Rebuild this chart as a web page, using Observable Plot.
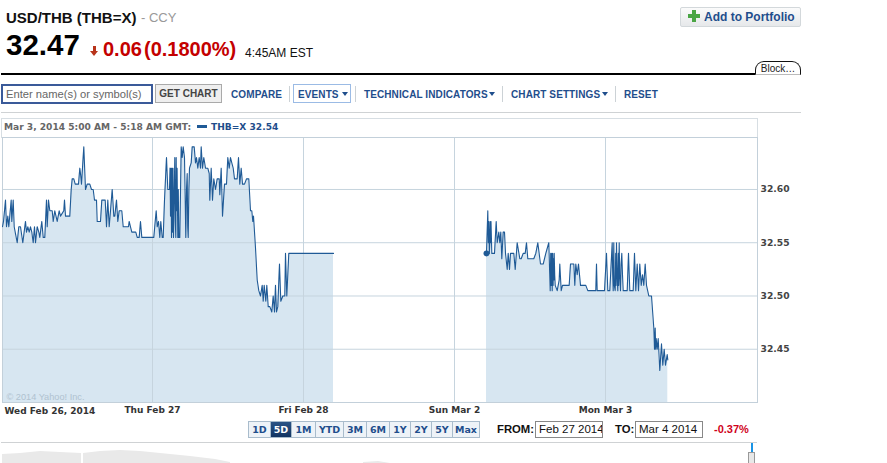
<!DOCTYPE html>
<html>
<head>
<meta charset="utf-8">
<script src="https://cdn.jsdelivr.net/npm/d3@7"></script>
<script src="https://cdn.jsdelivr.net/npm/@observablehq/plot@0.6"></script>
<style>
html,body{margin:0;padding:0;background:#fff;width:887px;height:463px;overflow:hidden;font-family:"Liberation Sans",Arial,sans-serif}
#page{position:relative;width:887px;height:463px;overflow:hidden}
.a{position:absolute;white-space:nowrap;line-height:1}
.nav{font-size:10px;font-weight:bold;color:#1f4e8c;top:90px;letter-spacing:.1px}
.sep{position:absolute;top:86px;width:1px;height:16px;background:#ccd2d6}
.caret{position:absolute;top:92px;width:0;height:0;border-left:3.5px solid transparent;border-right:3.5px solid transparent;border-top:4px solid #1f4e8c}
.rng{position:absolute;top:421px;height:17px;box-sizing:border-box;border:1px solid #a9bccc;border-left-width:0;background:#eef3f8;color:#1f4e8c;font:bold 9.5px "DejaVu Sans";line-height:15px;text-align:center}
.rng.on{background:linear-gradient(#2b5486,#123462);color:#fff}
.inp{position:absolute;top:421px;height:17px;box-sizing:border-box;border:1px solid #888;font-size:11.5px;line-height:15px;padding-left:3px;color:#111;white-space:nowrap;overflow:hidden}
svg{overflow:visible}
</style>
</head>
<body>
<div id="page">
  <div class="a" style="left:6px;top:10px;font-size:15px;font-weight:bold;color:#111">USD/THB (THB=X)</div>
  <div class="a" style="left:141px;top:11px;font-size:13px;color:#999">- CCY</div>
  <div class="a" style="left:6px;top:30px;font-size:29.5px;font-weight:bold;color:#000">32.47</div>
  <div class="a" style="left:93px;top:46px;width:3px;height:5px;background:#b8341b"></div>
  <div class="a" style="left:90px;top:51px;width:0;height:0;border-left:4.5px solid transparent;border-right:4.5px solid transparent;border-top:5px solid #b8341b"></div>
  <div class="a" style="left:103px;top:39px;font-size:20px;font-weight:bold;color:#c40000">0.06</div>
  <div class="a" style="left:144px;top:39px;font-size:20px;font-weight:bold;color:#c40000">(0.1800%)</div>
  <div class="a" style="left:245px;top:47px;font-size:12px;color:#111">4:45AM EST</div>

  <div class="a" style="left:680px;top:7px;width:121px;height:20px;box-sizing:border-box;border:1px solid #d3d8db;border-radius:2px;background:linear-gradient(#fbfbfb,#e6e8ea)"></div>
  <div class="a" style="left:692px;top:10px;width:4px;height:12px;background:#4aa544"></div>
  <div class="a" style="left:688px;top:14px;width:12px;height:4px;background:#4aa544"></div>
  <div class="a" style="left:704px;top:11px;font-size:12px;font-weight:bold;color:#1f4e8c">Add to Portfolio</div>

  <div class="a" style="left:1px;top:73px;width:755px;height:2px;background:#000"></div>
  <div class="a" style="left:755px;top:61px;width:46px;height:14px;box-sizing:border-box;border:1px solid #111;border-bottom:1px solid #bbb;border-radius:9px 9px 0 0;background:#fff;font-size:10px;color:#222;text-align:center;line-height:13px">Block…</div>

  <div class="a" style="left:1px;top:84px;width:152px;height:20px;box-sizing:border-box;border:2px solid #3a5a99;font-size:11.2px;line-height:16px;color:#666;padding-left:3px">Enter name(s) or symbol(s)</div>
  <div class="a" style="left:155px;top:84px;width:67px;height:19px;box-sizing:border-box;border:1px solid #aaa;background:#efefef;font-size:10px;font-weight:bold;color:#444;line-height:18px;text-align:center">GET CHART</div>
  <div class="a nav" style="left:231px">COMPARE</div>
  <div class="sep" style="left:289px"></div>
  <div class="a" style="left:293px;top:84px;width:58px;height:19px;box-sizing:border-box;border:1px solid #9bbbe5"></div>
  <div class="a nav" style="left:298px">EVENTS</div><div class="caret" style="left:342px"></div>
  <div class="sep" style="left:355px"></div>
  <div class="a nav" style="left:364px">TECHNICAL INDICATORS</div><div class="caret" style="left:489px"></div>
  <div class="sep" style="left:502px"></div>
  <div class="a nav" style="left:511px">CHART SETTINGS</div><div class="caret" style="left:602px"></div>
  <div class="sep" style="left:615px"></div>
  <div class="a nav" style="left:624px">RESET</div>
  <div class="a" style="left:1px;top:112px;width:800px;height:1px;background:#cfd2d4"></div>

  <div class="a" style="left:1px;top:118px;width:757px;height:20px;box-sizing:border-box;border:1px solid #d7dee3;border-bottom:0"></div>
  <div class="a" style="left:4px;top:122px;font:bold 9.1px 'DejaVu Sans';color:#666">Mar 3, 2014 5:00 AM - 5:18 AM GMT:</div>
  <div class="a" style="left:197px;top:125px;width:10px;height:3px;background:#1f5a96"></div>
  <div class="a" style="left:211px;top:122px;font:bold 9.1px 'DejaVu Sans';color:#1f4e8c">THB=X 32.54</div>

  <div id="chart" class="a" style="left:0;top:130px"></div>

  <div id="ranges"></div>
  <div class="a" style="left:497px;top:424px;font-size:11.3px;font-weight:bold;color:#111">FROM:</div>
  <div class="inp" style="left:535px;width:68px">Feb 27 2014</div>
  <div class="a" style="left:615px;top:424px;font-size:11.3px;font-weight:bold;color:#111">TO:</div>
  <div class="inp" style="left:635px;width:68px">Mar 4 2014</div>
  <div class="a" style="left:714px;top:424px;font-size:11px;font-weight:bold;color:#d0021b">-0.37%</div>
  <div class="a" style="left:1px;top:442px;width:756px;height:1px;background:#cfd2d4"></div>
  <div id="overview" class="a" style="left:0;top:447px"></div>
  <div class="a" style="left:751px;top:443px;width:2px;height:10px;background:#1a94e6"></div>
  <div class="a" style="left:748px;top:452px;width:7px;height:12px;box-sizing:border-box;border:1px solid #999;background:#e8e8e8"></div>
</div>
<script>
// x is counted in bars of about 9.5 minutes; one session on the axis is 151 bars
const sessionBars = [150, 301, 452, 603];
const sessionLabels = ["Thu Feb 27", "Fri Feb 28", "Sun Mar 2", "Mon Mar 3"];
const firstLabel = "Wed Feb 26, 2014";
const rateTicks = [32.45, 32.50, 32.55, 32.60];
const copyright = "© 2014 Yahoo! Inc.";
const rangeLabels = ["1D","5D","1M","YTD","3M","6M","1Y","2Y","5Y","Max"];
const rangeEdges = [248,271,292,316,344,367,390,411,432,453,480];

const earlyRates = [[0,32.565],[1,32.57],[3,32.59],[4,32.565],[5.3,32.575],[6.3,32.565],[8.7,32.59],[9.3,32.57],[10.7,32.59],[11.7,32.565],[12.7,32.56],[14.7,32.55],[16.3,32.565],[18,32.565],[20.3,32.55],[23,32.57],[24,32.56],[25.3,32.565],[26.7,32.56],[28,32.565],[29.3,32.56],[30.7,32.55],[32,32.565],[33,32.55],[34.7,32.565],[36.3,32.56],[37.3,32.555],[39.3,32.57],[40.7,32.555],[42.3,32.555],[44,32.59],[44.7,32.565],[46,32.59],[47.3,32.58],[49.7,32.58],[50.7,32.57],[52.3,32.58],[54.7,32.57],[56.7,32.58],[58,32.575],[61.3,32.58],[62,32.59],[63,32.575],[67.3,32.575],[68.7,32.60],[69.7,32.61],[71.3,32.61],[72.7,32.605],[76,32.605],[77.3,32.62],[78,32.615],[79,32.605],[81.3,32.64],[83,32.60],[84.7,32.605],[87.3,32.605],[89,32.60],[90.7,32.60],[92,32.59],[94,32.59],[94.7,32.57],[98,32.57],[99.3,32.59],[102.7,32.59],[104,32.565],[105.3,32.59],[106.7,32.565],[108,32.58],[109.7,32.60],[111.3,32.575],[112.3,32.575],[114,32.59],[115.3,32.57],[116.7,32.58],[119.3,32.58],[120.7,32.565],[126,32.565],[126.7,32.57],[128,32.565],[129.3,32.56],[133.3,32.56],[134.7,32.555],[136.7,32.555],[138,32.57],[139.3,32.555],[151.3,32.555],[152.7,32.57],[153.7,32.58],[154.7,32.565],[156,32.57],[157.3,32.555],[158.3,32.57],[159.7,32.555],[160.7,32.555],[162,32.59],[164,32.63],[165.3,32.60],[167,32.60],[167.5,32.62],[168,32.575],[168.5,32.62],[169,32.555],[169.5,32.62],[170,32.56],[170.5,32.62],[171,32.555],[172.3,32.63],[172.8,32.57],[173.3,32.555],[173.7,32.63],[174,32.58],[174.6,32.62],[175.3,32.555],[175.8,32.6],[176.3,32.555],[177.3,32.555],[178.7,32.64],[179.7,32.63],[180.7,32.64],[182,32.63],[183.3,32.555],[184,32.6],[184.7,32.615],[185.2,32.565],[185.7,32.555],[186.4,32.6],[187,32.62],[188.7,32.625],[189.7,32.64],[191.7,32.64],[193,32.625],[194,32.63],[195.3,32.62],[196.7,32.63],[198,32.62],[198.7,32.64],[200,32.62],[201.3,32.63],[203,32.62],[205.3,32.62],[206.7,32.615],[207.3,32.59],[208.7,32.62],[210,32.59],[211.3,32.61],[213,32.60],[214.7,32.61],[216.7,32.61],[217.3,32.595],[218.7,32.62],[220,32.575],[222,32.605],[224,32.605],[225.3,32.63],[226.7,32.62],[228,32.63],[229.3,32.625],[230.7,32.62],[232,32.61],[234.7,32.61],[236,32.63],[237.3,32.605],[238.7,32.62],[240,32.605],[242,32.605],[244,32.61],[246.3,32.61],[248,32.58],[249.3,32.58],[250.3,32.57],[251,32.575],[252,32.56],[253,32.545],[254.7,32.515],[256.3,32.505],[258,32.50],[259.7,32.51],[260.7,32.495],[261.7,32.51],[263.3,32.495],[264.3,32.51],[265.7,32.49],[267.3,32.49],[269.3,32.485],[270.7,32.50],[272,32.485],[273,32.51],[274,32.485],[275.3,32.49],[277,32.53],[278.3,32.495],[280.3,32.50],[282.3,32.50],[283,32.54],[284.3,32.50],[286.3,32.54],[331,32.54]];

const lateRates = [[484,32.54],[485.3,32.58],[485.8,32.55],[486.3,32.57],[486.8,32.54],[487.3,32.55],[487.7,32.57],[488,32.55],[488.5,32.57],[489.3,32.54],[492,32.54],[493.7,32.57],[494.7,32.55],[496.3,32.56],[497.3,32.55],[498.3,32.56],[499.3,32.535],[500.7,32.56],[502,32.56],[503,32.54],[504.7,32.525],[505.7,32.54],[507,32.525],[508,32.54],[511.3,32.54],[512.7,32.525],[514.7,32.55],[517.3,32.535],[518.7,32.535],[520.7,32.54],[522.7,32.54],[524,32.55],[525.3,32.535],[531.3,32.535],[533.3,32.54],[535.3,32.55],[538,32.53],[540.7,32.53],[543.3,32.54],[546.3,32.55],[547.7,32.505],[548.2,32.54],[548.7,32.51],[549.3,32.54],[549.7,32.505],[550.2,32.54],[550.6,32.51],[551,32.535],[551.4,32.515],[551.7,32.54],[552.2,32.52],[552.7,32.51],[554.7,32.505],[556.7,32.515],[557.3,32.53],[558.7,32.505],[560,32.51],[566.7,32.51],[568,32.53],[571.3,32.53],[572.3,32.51],[573.3,32.53],[574.7,32.52],[576,32.53],[578,32.51],[583.3,32.51],[585.3,32.505],[593.3,32.505],[594,32.53],[594.7,32.505],[602,32.505],[604,32.54],[605.3,32.505],[607.3,32.505],[609.7,32.55],[610.2,32.52],[610.7,32.505],[611.3,32.55],[611.8,32.51],[612.7,32.505],[613.2,32.54],[613.6,32.51],[614,32.55],[614.6,32.52],[615.3,32.505],[615.8,32.54],[616.2,32.51],[616.7,32.55],[617.2,32.52],[618,32.505],[618.6,32.53],[619.3,32.54],[620,32.52],[620.7,32.505],[624.7,32.505],[626,32.54],[627.3,32.505],[630.7,32.505],[632,32.54],[633.3,32.505],[634.7,32.53],[636,32.505],[637.3,32.53],[638.7,32.51],[640,32.52],[641.3,32.51],[642.7,32.53],[644,32.51],[646.3,32.50],[649,32.50],[651.3,32.47],[652,32.45],[652.7,32.47],[653.2,32.45],[653.7,32.46],[654.7,32.45],[655.7,32.46],[657.3,32.43],[659,32.455],[660.3,32.435],[661.7,32.45],[663,32.435],[664.7,32.445],[665.3,32.44]];

const marker = [[484, 32.54]];
const overviewA = [[0,9],[18,10],[38,12],[58,11],[79,10]];
const overviewB = [[81,10],[98,12],[118,13],[138,12],[158,10],[188,7],[213,4],[228,1]];
const overviewC = [[361,1],[376,2],[388,0]];

const lineBlue = "#1f5a96", fillBlue = "#d7e6f1", gridBlue = "#c6d4de";
const seg = s => ({x: d => d[0], y: d => d[1], ...s});
const base = {x: d => d[0], y1: () => 32.40, y2: d => d[1], fill: fillBlue};

document.getElementById("chart").append(Plot.plot({
  width: 800, height: 290,
  marginTop: 7, marginBottom: 18, marginLeft: 2, marginRight: 43,
  style: {fontFamily: "'DejaVu Sans'", fontSize: "9px", fontWeight: "bold", color: "#444", background: "transparent"},
  x: {domain: [0, 755], axis: null},
  y: {domain: [32.40, 32.6488], axis: null},
  marks: [
    Plot.areaY(earlyRates, base),
    Plot.areaY(lateRates, base),
    Plot.gridX(sessionBars, {stroke: gridBlue, strokeOpacity: 1}),
    Plot.gridY(rateTicks, {stroke: gridBlue, strokeOpacity: 1}),
    Plot.frame({stroke: "#c3d0da"}),
    Plot.axisY({anchor: "right", ticks: rateTicks, tickSize: 0, tickPadding: 3, tickFormat: d3.format(".2f"), label: null, fill: "#444", fontSize: 9.2}),
    Plot.axisX({ticks: sessionBars, tickSize: 0, tickPadding: 4, tickFormat: d => sessionLabels[sessionBars.indexOf(d)], label: null, fill: "#333", fontSize: 9}),
    Plot.text([firstLabel], {frameAnchor: "bottom-left", dx: 2, dy: 11, textAnchor: "start", fill: "#333", fontSize: 9}),
    Plot.text([copyright], {frameAnchor: "bottom-left", dx: 4, dy: -3, textAnchor: "start", fill: "#b0c2d0", fontWeight: "normal", fontFamily: "'Liberation Sans'", fontSize: 9.2}),
    Plot.line(earlyRates, seg({stroke: lineBlue, strokeWidth: 1.1})),
    Plot.line(lateRates, seg({stroke: lineBlue, strokeWidth: 1.1})),
    Plot.dot(marker, seg({r: 3, fill: lineBlue}))
  ]
}));

document.getElementById("overview").append(Plot.plot({
  width: 800, height: 16, margin: 0, marginLeft: 2, marginRight: 43,
  x: {domain: [0, 755], axis: null},
  y: {domain: [0, 16], axis: null},
  style: {background: "transparent"},
  marks: [overviewA, overviewB, overviewC].map(o => Plot.areaY(o, {x: d => d[0], y: d => d[1], fill: "#e9e9e9"}))
}));

const ranges = document.getElementById("ranges");
rangeLabels.forEach((t, i) => {
  const b = document.createElement("div");
  b.className = "rng" + (t === "5D" ? " on" : "");
  b.textContent = t;
  b.style.left = rangeEdges[i] + "px";
  b.style.width = (rangeEdges[i + 1] - rangeEdges[i]) + "px";
  if (i === 0) b.style.borderLeftWidth = "1px";
  ranges.append(b);
});
</script>
</body>
</html>
